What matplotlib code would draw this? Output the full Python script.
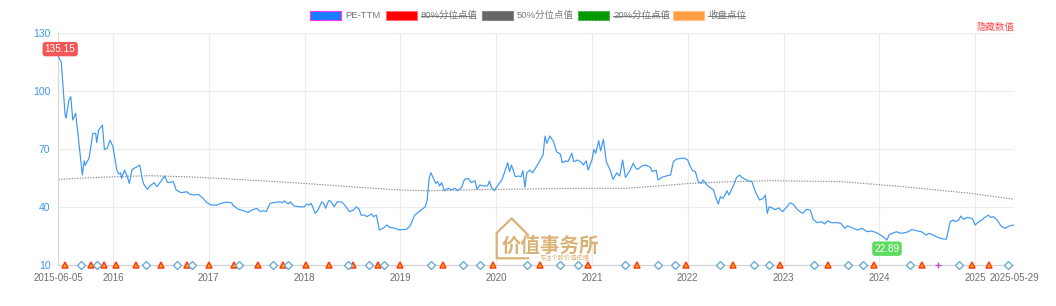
import matplotlib

matplotlib.use("Agg")
import matplotlib.pyplot as plt
from matplotlib.lines import Line2D
from matplotlib.patches import Rectangle

# PE-TTM series, x as decimal year
PE_YEARS = [
    2015.43, 2015.46, 2015.50, 2015.51, 2015.54, 2015.56, 2015.58, 2015.61, 2015.63, 2015.68,
    2015.70, 2015.71, 2015.75, 2015.79, 2015.82, 2015.83, 2015.85, 2015.89, 2015.91, 2015.94,
    2015.97, 2016.00, 2016.04, 2016.06, 2016.08, 2016.09, 2016.12, 2016.15, 2016.17, 2016.20,
    2016.24, 2016.28, 2016.30, 2016.32, 2016.36, 2016.38, 2016.43, 2016.46, 2016.51, 2016.54,
    2016.57, 2016.63, 2016.66, 2016.71, 2016.77, 2016.80, 2016.84, 2016.89, 2016.94, 2016.98,
    2017.03, 2017.08, 2017.13, 2017.18, 2017.24, 2017.25, 2017.31, 2017.36, 2017.41, 2017.45,
    2017.50, 2017.54, 2017.57, 2017.60, 2017.64, 2017.69, 2017.74, 2017.77, 2017.79, 2017.83,
    2017.85, 2017.89, 2017.95, 2018.00, 2018.02, 2018.05, 2018.07, 2018.11, 2018.14, 2018.18,
    2018.20, 2018.22, 2018.25, 2018.27, 2018.31, 2018.34, 2018.38, 2018.41, 2018.47, 2018.51,
    2018.54, 2018.57, 2018.59, 2018.63, 2018.65, 2018.70, 2018.72, 2018.75, 2018.78, 2018.82,
    2018.86, 2018.89, 2018.92, 2018.99, 2019.06, 2019.10, 2019.15, 2019.20, 2019.26, 2019.28,
    2019.30, 2019.32, 2019.34, 2019.37, 2019.39, 2019.41, 2019.43, 2019.46, 2019.50, 2019.53,
    2019.57, 2019.60, 2019.64, 2019.67, 2019.71, 2019.74, 2019.78, 2019.80, 2019.83, 2019.86,
    2019.91, 2019.93, 2019.95, 2019.98, 2020.02, 2020.06, 2020.09, 2020.12, 2020.14, 2020.16,
    2020.20, 2020.23, 2020.26, 2020.28, 2020.30, 2020.32, 2020.35, 2020.38, 2020.42, 2020.49,
    2020.51, 2020.53, 2020.56, 2020.60, 2020.63, 2020.67, 2020.69, 2020.73, 2020.75, 2020.79,
    2020.81, 2020.85, 2020.89, 2020.91, 2020.94, 2020.96, 2021.00, 2021.02, 2021.04, 2021.07,
    2021.09, 2021.12, 2021.15, 2021.19, 2021.22, 2021.26, 2021.29, 2021.32, 2021.35, 2021.40,
    2021.43, 2021.46, 2021.48, 2021.52, 2021.56, 2021.61, 2021.63, 2021.67, 2021.69, 2021.73,
    2021.77, 2021.82, 2021.85, 2021.88, 2021.93, 2021.97, 2022.00, 2022.02, 2022.05, 2022.08,
    2022.11, 2022.14, 2022.16, 2022.20, 2022.23, 2022.27, 2022.29, 2022.32, 2022.34, 2022.37,
    2022.41, 2022.43, 2022.48, 2022.51, 2022.54, 2022.58, 2022.63, 2022.67, 2022.71, 2022.75,
    2022.79, 2022.81, 2022.83, 2022.85, 2022.89, 2022.91, 2022.95, 2022.99, 2023.03, 2023.07,
    2023.10, 2023.15, 2023.20, 2023.24, 2023.28, 2023.31, 2023.35, 2023.40, 2023.43, 2023.46,
    2023.50, 2023.56, 2023.60, 2023.64, 2023.67, 2023.73, 2023.77, 2023.82, 2023.87, 2023.92,
    2023.97, 2024.01, 2024.04, 2024.08, 2024.10, 2024.15, 2024.18, 2024.22, 2024.27, 2024.30,
    2024.34, 2024.39, 2024.44, 2024.49, 2024.52, 2024.56, 2024.62, 2024.67, 2024.70, 2024.74,
    2024.77, 2024.79, 2024.83, 2024.85, 2024.88, 2024.92, 2024.97, 2025.00, 2025.04, 2025.07,
    2025.10, 2025.14, 2025.16, 2025.19, 2025.23, 2025.27, 2025.31, 2025.36, 2025.40,
]
PE_VALUES = [
    117.7, 115.2, 87.6, 85.9, 95.3, 97.0, 85.0, 88.5, 79.8, 56.5,
    63.9, 61.7, 65.2, 78.1, 78.1, 73.3, 79.8, 82.4, 69.8, 70.4,
    74.6, 71.2, 59.1, 57.1, 57.7, 54.8, 59.1, 55.7, 52.2, 59.5,
    60.5, 61.7, 55.7, 51.9, 49.1, 50.5, 52.6, 50.5, 54.0, 56.0,
    52.6, 53.1, 48.8, 47.4, 47.9, 46.7, 46.2, 46.5, 44.5, 42.2,
    41.0, 41.0, 41.9, 42.5, 42.2, 41.0, 38.8, 38.1, 37.2, 38.4,
    39.3, 37.6, 38.1, 37.6, 41.9, 42.4, 42.7, 42.2, 43.2, 41.5,
    42.7, 40.5, 40.1, 40.1, 41.5, 41.0, 41.9, 36.7, 38.4, 42.7,
    41.9, 39.3, 43.2, 43.2, 40.1, 42.7, 42.7, 41.5, 37.6, 38.4,
    40.1, 38.8, 35.8, 35.8, 35.0, 36.4, 35.0, 35.8, 28.1, 29.0,
    30.7, 29.4, 29.3, 28.2, 28.4, 30.0, 35.8, 37.8, 40.1, 43.6,
    54.8, 57.7, 55.3, 52.2, 53.1, 50.9, 52.6, 48.4, 49.7, 48.8,
    49.7, 48.4, 50.2, 54.3, 54.8, 52.6, 53.6, 49.1, 51.4, 50.9,
    50.9, 53.4, 50.2, 48.4, 51.4, 54.0, 58.3, 62.9, 58.3, 61.7,
    55.7, 56.0, 55.7, 58.8, 50.2, 57.7, 59.1, 57.7, 60.8, 66.9,
    76.7, 72.9, 76.7, 73.8, 68.6, 67.4, 62.9, 63.9, 63.4, 67.8,
    63.4, 64.3, 63.1, 61.7, 63.9, 59.1, 64.3, 69.8, 67.8, 74.3,
    69.1, 75.0, 63.4, 59.1, 54.3, 57.7, 56.0, 64.3, 55.3, 59.1,
    62.6, 60.0, 59.5, 61.2, 61.7, 60.5, 58.3, 59.1, 54.0, 55.3,
    56.0, 56.5, 63.4, 64.7, 65.2, 65.2, 64.3, 61.7, 58.8, 58.3,
    53.1, 52.2, 54.0, 51.4, 50.2, 48.8, 45.3, 41.5, 45.3, 44.5,
    48.4, 46.2, 51.4, 55.3, 56.5, 54.8, 53.6, 53.1, 47.4, 43.6,
    44.5, 46.2, 36.7, 40.1, 39.3, 38.6, 39.5, 37.6, 39.8, 42.2,
    41.5, 38.4, 36.7, 38.8, 38.4, 33.6, 31.9, 32.4, 31.2, 32.9,
    31.9, 31.9, 31.5, 29.0, 30.2, 29.0, 28.1, 29.0, 27.2, 27.6,
    26.7, 25.5, 24.6, 22.89, 25.5, 26.7, 27.2, 26.4, 26.7, 27.2,
    28.4, 27.7, 27.2, 25.5, 26.4, 25.5, 24.1, 23.4, 23.4, 32.4,
    33.3, 32.4, 33.3, 35.3, 33.6, 34.6, 34.1, 30.7, 32.4, 33.3,
    34.6, 35.8, 34.6, 35.0, 33.3, 30.2, 29.0, 30.2, 30.7,
]

# 50% quantile line
MED_YEARS = [2015.43, 2015.70, 2016.00, 2016.38, 2016.80, 2017.22, 2017.60, 2018.00, 2018.50,
             2018.99, 2019.30, 2019.93, 2020.50, 2020.98, 2021.36, 2021.70, 2022.02, 2022.40,
             2022.86, 2023.62, 2024.25, 2024.95, 2025.40]
MED_VALUES = [54.3, 55.0, 55.6, 56.2, 55.6, 54.5, 53.4, 52.2, 50.4,
              48.8, 48.4, 49.1, 49.4, 49.7, 49.7, 50.9, 52.2, 53.0,
              53.6, 53.1, 50.5, 47.1, 44.0]

# event markers on the bottom line
TRI_YEARS = [2015.50, 2015.77, 2015.91, 2016.03, 2016.24, 2016.50, 2016.77, 2017.00, 2017.26,
             2017.51, 2017.77, 2018.01, 2018.26, 2018.51, 2018.77, 2019.00, 2019.45, 2019.97,
             2020.46, 2020.96, 2021.47, 2021.98, 2022.47, 2022.96, 2023.46, 2023.94, 2024.45,
             2024.97, 2025.14]
DIA_YEARS = [2015.67, 2015.83, 2016.34, 2016.67, 2016.83, 2017.32, 2017.67, 2017.83, 2018.45,
             2018.67, 2018.83, 2019.32, 2019.65, 2019.83, 2020.32, 2020.67, 2020.85, 2021.34,
             2021.69, 2021.87, 2022.34, 2022.69, 2022.85, 2023.32, 2023.67, 2023.83, 2024.32,
             2024.83, 2025.34]
PLUS_YEARS = [2024.61]

X_START, X_END = 2015.426, 2025.406
TICK_YEARS = [X_START, 2016, 2017, 2018, 2019, 2020, 2021, 2022, 2023, 2024, 2025, X_END]
TICK_LABELS = ["2015-06-05", "2016", "2017", "2018", "2019", "2020", "2021", "2022", "2023",
               "2024", "2025", "2025-05-29"]
Y_TICKS = [10, 40, 70, 100, 130]

MAX_LABEL = "135.15"
MIN_LABEL = "22.89"

LEGEND = [
    ("PE-TTM", "#1a7cff", "#ff33ff", False),
    ("80%分位点值", "#ff0000", "#ff6060", True),
    ("50%分位点值", "#666666", "#888888", False),
    ("20%分位点值", "#009900", "#33aa33", True),
    ("收盘点位", "#ff9f45", "#ffbb77", True),
]

W, H = 1056, 306
FONT = ["Liberation Sans", "Noto Sans CJK SC", "DejaVu Sans"]
plt.rcParams["font.family"] = FONT


def fx(px):
    return px / W


def fy(py):
    return 1 - py / H


fig = plt.figure(figsize=(W / 100, H / 100), dpi=100)
ax = fig.add_axes([fx(58), fy(265), fx(1014) - fx(58), fy(33) - fy(265)])

ax.plot(PE_YEARS, PE_VALUES, color="#3d98f5", lw=0.85, zorder=3)
ax.plot(MED_YEARS, MED_VALUES, color="#888888", lw=0.8, ls=(0, (1.2, 1.2)), zorder=2)

ax.plot(TRI_YEARS, [10] * len(TRI_YEARS), ls="none", marker="^", ms=5, mfc="#ffb300",
        mec="#ff3b1a", mew=1.1, zorder=5, clip_on=False)
ax.plot(DIA_YEARS, [10] * len(DIA_YEARS), ls="none", marker="D", ms=3.6, mfc="white",
        mec="#6aaed6", mew=1.0, zorder=5, clip_on=False)
ax.plot(PLUS_YEARS, [10] * len(PLUS_YEARS), ls="none", marker="+", ms=5, mec="#cc44cc",
        mew=1.0, zorder=5, clip_on=False)

# max / min labels
ax.annotate(MAX_LABEL, (PE_YEARS[0], PE_VALUES[0]), xytext=(1.3, 5.5), textcoords="offset points",
            ha="center", va="center", fontsize=7.2, color="white", zorder=6, annotation_clip=False,
            bbox=dict(boxstyle="round,pad=0.22,rounding_size=0.3", fc="#f25656", ec="none"))
i_min = PE_VALUES.index(min(PE_VALUES))
ax.annotate(MIN_LABEL, (PE_YEARS[i_min], PE_VALUES[i_min]), xytext=(0, -6.2),
            textcoords="offset points", ha="center", va="center", fontsize=7.2, color="white",
            zorder=6, bbox=dict(boxstyle="round,pad=0.22,rounding_size=0.3", fc="#5cdc5c", ec="none"))

ax.set_xlim(X_START, X_END)
ax.set_ylim(10, 130)
ax.set_xticks(TICK_YEARS)
ax.set_xticklabels(TICK_LABELS)
ax.set_yticks(Y_TICKS)
ax.tick_params(axis="x", length=0, pad=5.5, labelsize=7, labelcolor="#6e6e6e")
ax.tick_params(axis="y", length=0, pad=5.5, labelsize=7.5, labelcolor="#3d98f5")
ax.grid(True, color="#ececec", lw=0.8, zorder=0)
for side in ["top", "right"]:
    ax.spines[side].set_visible(False)
ax.spines["left"].set_color("#d6d6d6")
ax.spines["bottom"].set_color("#d0d0d0")
ax.spines["left"].set_linewidth(0.8)
ax.spines["bottom"].set_linewidth(0.8)
ax.set_axisbelow(True)

# legend drawn by hand
rect_x = [310, 386, 482, 578, 673]
text_end = [379, 475, 571, 667, 745]
for (label, fc, ec, off), rx, tx_end in zip(LEGEND, rect_x, text_end):
    fig.add_artist(Rectangle((fx(rx), fy(20)), fx(31), fy(11) - fy(20), transform=fig.transFigure,
                             fc=fc, ec=ec, lw=0.8, ls=(0, (2, 1)) if off else "-"))
    fig.text(fx(rx + 35), fy(15.5), label, ha="left", va="center", fontsize=6.8, color="#777777")
    if off:
        fig.add_artist(Line2D([fx(rx + 35), fx(tx_end)], [fy(15.5), fy(15.5)],
                              transform=fig.transFigure, color="#777777", lw=0.7))

fig.text(fx(1014), fy(27), "隐藏数值", ha="right", va="center", fontsize=6.8, color="#ff4a4a")

# watermark
gold = "#d6aa66"
fig.add_artist(Line2D([fx(528), fx(511.7), fx(496.7), fx(496.7), fx(528)],
                      [fy(235), fy(218.3), fy(233), fy(258.3), fy(258.3)],
                      transform=fig.transFigure, color=gold, lw=1.6, alpha=0.9))
fig.text(fx(550), fy(246), "价值事务所", ha="center", va="center", fontsize=14, color=gold,
         fontweight="bold", alpha=0.9)
fig.text(fx(565), fy(258), "专注个股价值挖掘", ha="center", va="center", fontsize=4.5, color=gold,
         alpha=0.9)

fig.savefig("out.png", dpi=100)
